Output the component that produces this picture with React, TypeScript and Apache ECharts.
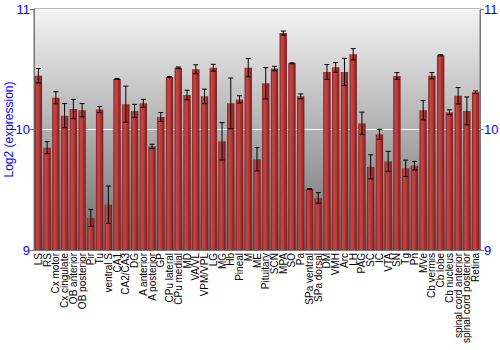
import React, { useEffect, useRef } from "react";
import * as echarts from "echarts";

const categories = [
  "LS", "RS", "Cx motor", "Cx cingulate", "OB anterior", "OB posterior", "Pir", "Tu",
  "ventral S", "CA1", "CA2/CA3", "DG", "A anterior", "A posterior", "GP", "CPu lateral",
  "CPu medial", "MD", "VA/VL", "VPM/VPL", "LG", "MG", "Hb", "Pineal", "M", "ME",
  "Pituitary", "SCN", "MPA", "SO", "Pa", "SPa ventral", "SPa dorsal", "DM", "VMH", "Arc",
  "LH", "PAG", "SC", "IC", "VTA", "SN", "Tg", "Pn", "MVe", "Cb vermis", "Cb lobe",
  "Cb nucleus", "spinal cord anterior", "spinal cord posterior", "Retina",
];

const values = [
  10.446, 9.849, 10.264, 10.115, 10.17, 10.16, 9.266, 10.165,
  9.376, 10.42, 10.21, 10.154, 10.217, 9.86, 10.104, 10.436,
  10.513, 10.286, 10.5, 10.275, 10.513, 9.902, 10.217, 10.25, 10.513, 9.753,
  10.383, 10.506, 10.8, 10.549, 10.275, 9.506, 9.432, 10.477, 10.516, 10.477,
  10.624, 10.051, 9.69, 9.96, 9.736, 10.444, 9.678, 9.7, 10.16, 10.446, 10.616,
  10.143, 10.28, 10.154, 10.31,
];

const errors = [
  0.06, 0.05, 0.05, 0.1, 0.08, 0.055, 0.07, 0.025,
  0.155, 0.004, 0.15, 0.055, 0.033, 0.018, 0.037, 0.004,
  0.006, 0.04, 0.037, 0.06, 0.028, 0.155, 0.21, 0.03, 0.076, 0.097,
  0.13, 0.018, 0.017, 0.004, 0.02, 0.004, 0.044, 0.062, 0.04, 0.113,
  0.047, 0.093, 0.1, 0.041, 0.083, 0.028, 0.068, 0.035, 0.08, 0.026, 0.004,
  0.02, 0.068, 0.116, 0.01,
];

const yTicks = { min: 9, max: 11, interval: 1 };

export default function App() {
  const ref = useRef<HTMLDivElement>(null);
  useEffect(() => {
    if (!ref.current) return;
    const chart = echarts.init(ref.current, null, { renderer: "svg" });
    const barColor = new echarts.graphic.LinearGradient(0, 0, 1, 0, [
      { offset: 0, color: "#7a1a1a" },
      { offset: 0.25, color: "#c44848" },
      { offset: 0.55, color: "#b83a3a" },
      { offset: 1, color: "#7a1a1a" },
    ]);
    const errData = values.map((v, i) => [i, v - errors[i], v + errors[i]]);
    const blue = "#0000ff";
    const yAxisCommon = {
      type: "value",
      min: yTicks.min,
      max: yTicks.max,
      interval: yTicks.interval,
      axisLine: { show: true, lineStyle: { color: "#777" } },
      axisTick: { show: true, length: 4, lineStyle: { color: "#777" } },
      axisLabel: { color: blue, fontSize: 13, fontFamily: "Liberation Sans", margin: 4 },
      splitLine: { show: true, lineStyle: { color: "#ffffff", width: 1 } },
    };
    chart.setOption({
      animation: false,
      grid: {
        left: 34,
        right: 20,
        top: 9,
        bottom: 100,
        outerBoundsMode: "none",
        containLabel: false,
        show: true,
        borderColor: "#777",
        borderWidth: 1,
        backgroundColor: new echarts.graphic.LinearGradient(0, 0, 0, 1, [
          { offset: 0, color: "#f4f4f4" },
          { offset: 0.5, color: "#b0b0b0" },
          { offset: 1, color: "#6c6c6c" },
        ]),
      },
      xAxis: {
        type: "category",
        data: categories,
        axisLine: { show: true, lineStyle: { color: "#777" } },
        axisTick: { show: false },
        axisLabel: {
          rotate: 90,
          interval: 0,
          color: "#000",
          fontSize: 10,
          fontFamily: "Liberation Sans",
          margin: 3,
        },
      },
      yAxis: [
        {
          ...yAxisCommon,
          position: "left",
          name: "Log2 (expression)",
          nameLocation: "middle",
          nameGap: 19,
          nameMoveOverlap: false,
          nameTextStyle: { color: blue, fontSize: 12, fontFamily: "Liberation Sans" },
        },
        { ...yAxisCommon, position: "right" },
      ],
      series: [
        {
          type: "bar",
          data: values,
          barWidth: "84%",
          itemStyle: { color: barColor },
        },
        {
          type: "custom",
          data: errData,
          z: 10,
          renderItem: (params: any, api: any) => {
            const x = api.value(0);
            const lo = api.coord([x, api.value(1)]);
            const hi = api.coord([x, api.value(2)]);
            const cw = 2.5;
            const style = { stroke: "#000", lineWidth: 1 };
            return {
              type: "group",
              children: [
                { type: "line", shape: { x1: lo[0], y1: lo[1], x2: hi[0], y2: hi[1] }, style },
                { type: "line", shape: { x1: lo[0] - cw, y1: lo[1], x2: lo[0] + cw, y2: lo[1] }, style },
                { type: "line", shape: { x1: hi[0] - cw, y1: hi[1], x2: hi[0] + cw, y2: hi[1] }, style },
              ],
            };
          },
        },
      ],
    });
    return () => chart.dispose();
  }, []);
  return <div ref={ref} style={{ width: 500, height: 350, position: "absolute", left: 0, top: 0 }} />;
}
